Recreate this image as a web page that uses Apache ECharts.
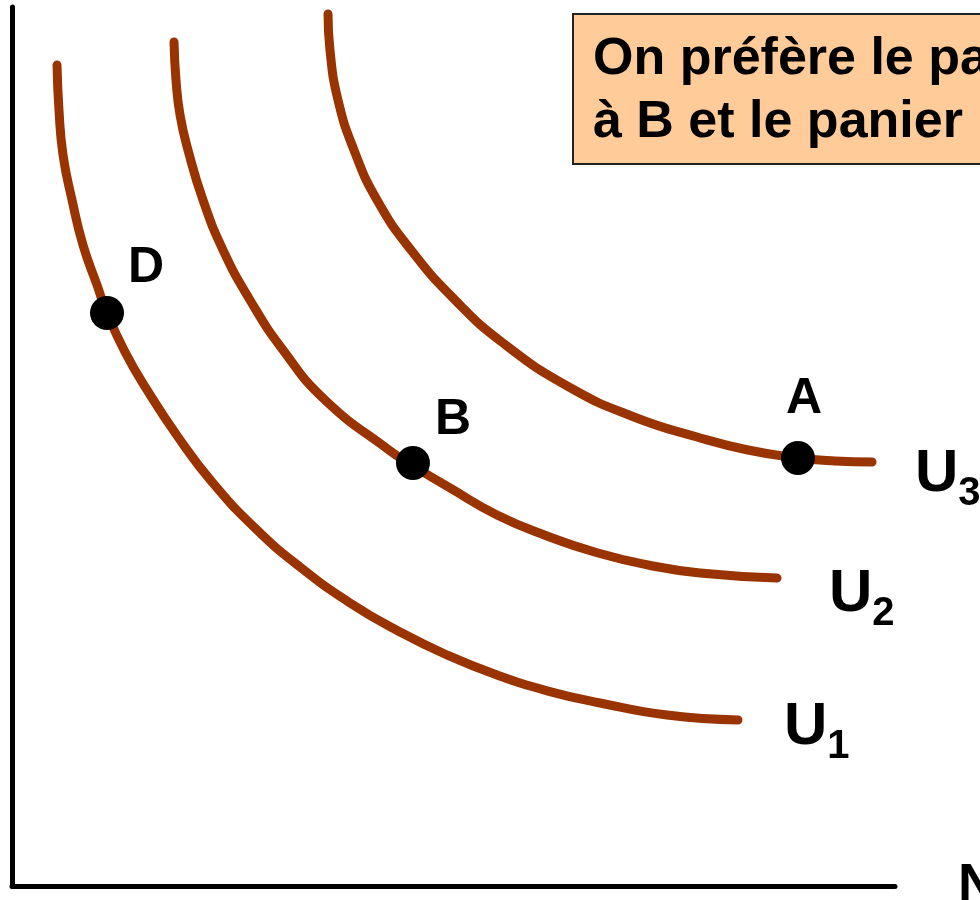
<!DOCTYPE html>
<html>
<head>
    <meta charset="utf-8">
    <title>Courbes d'indifférence</title>
    <script src="https://cdn.jsdelivr.net/npm/echarts@6/dist/echarts.min.js"></script>
    <style>
        html, body { margin: 0; padding: 0; background: #fff; }
    </style>
</head>
<body>
<div id="main" style="width: 980px;height:900px;"></div>
<script type="text/javascript">
    // courbes d'indifférence (axes 0-100)
    var u1 = [[5.10, 93.40], [5.32, 88.28], [5.78, 83.16], [6.80, 78.04], [8.04, 72.92],
        [9.63, 68.37], [10.76, 65.19], [12.80, 60.75], [15.29, 56.43], [18.80, 51.08],
        [22.65, 45.96], [27.52, 40.73], [32.62, 36.29], [38.28, 32.20], [43.94, 28.90],
        [49.26, 26.28], [54.93, 24.00], [60.70, 22.18], [66.59, 20.82], [74.18, 19.45],
        [82.22, 18.89]];
    var u2 = [[18.35, 96.02], [18.57, 91.70], [19.03, 87.71], [19.93, 83.73], [21.63, 78.04],
        [23.90, 72.35], [26.95, 66.67], [30.69, 60.98], [35.45, 55.29], [42.70, 49.60],
        [45.64, 47.67], [49.60, 45.28], [54.93, 42.21], [60.59, 39.82], [66.36, 37.88],
        [72.03, 36.52], [77.92, 35.61], [86.64, 35.04]];
    var u3 = [[35.79, 99.20], [36.01, 95.11], [36.92, 89.42], [38.73, 83.73], [41.34, 78.04],
        [45.19, 72.35], [50.17, 66.67], [55.61, 61.77], [63.08, 56.77], [70.44, 53.36],
        [77.58, 51.08], [83.35, 49.60], [89.01, 48.69], [93.20, 48.35], [97.40, 48.24]];
    // paniers
    var paniers = [
        { name: 'D', value: [10.76, 65.19], offset: [39, -45] },
        { name: 'B', value: [45.41, 48.12], offset: [40, -43] },
        { name: 'A', value: [89.01, 48.69], offset: [6, -59] }
    ];
    var noms = ['1', '2', '3'];
    var texte = ['On préfère le panier A', 'à B et le panier B à D'];
    var axeX = 'Nourriture';

    var brun = '#993300';
    var police = 'Liberation Sans, Arial, sans-serif';

    function courbe(data, idx, dist, dy) {
        return {
            type: 'line',
            data: data,
            smooth: 0.5,
            showSymbol: false,
            z: 2,
            lineStyle: { color: brun, width: 9, cap: 'round' },
            endLabel: {
                show: true,
                distance: dist,
                offset: [0, dy],
                formatter: '{u|U}{s|' + noms[idx] + '}',
                rich: {
                    u: { fontSize: 60, fontWeight: 'bold', fontFamily: police, color: '#000',
                        lineHeight: 56, verticalAlign: 'top' },
                    s: { fontSize: 40, fontWeight: 'bold', fontFamily: police, color: '#000',
                        lineHeight: 40, padding: [30, 0, 0, 0], verticalAlign: 'top' }
                }
            }
        };
    }

    var myChart = echarts.init(document.getElementById('main'));
    var option = {
        animation: false,
        grid: { left: 12, right: 85, top: 7, bottom: 14, outerBoundsMode: 'none', containLabel: false },
        xAxis: {
            type: 'value', min: 0, max: 100,
            name: axeX,
            nameLocation: 'end',
            nameGap: 63,
            nameTextStyle: { fontSize: 54, fontWeight: 'bold', fontFamily: police, color: '#000',
                align: 'left', verticalAlign: 'middle', padding: [0, 0, 18, 0] },
            axisLine: { lineStyle: { color: '#000', width: 5 } },
            axisTick: { show: false },
            axisLabel: { show: false },
            splitLine: { show: false }
        },
        yAxis: {
            type: 'value', min: 0, max: 100,
            axisLine: { show: true, lineStyle: { color: '#000', width: 5 } },
            axisTick: { show: false },
            axisLabel: { show: false },
            splitLine: { show: false }
        },
        series: [
            courbe(u1, 0, 46, 5),
            courbe(u2, 1, 52, 14),
            courbe(u3, 2, 43, 10),
            {
                type: 'scatter',
                z: 5,
                symbol: 'circle',
                symbolSize: 34,
                itemStyle: { color: '#000', opacity: 1 },
                data: paniers.map(function (p) {
                    return {
                        name: p.name, value: p.value,
                        label: { offset: p.offset }
                    };
                }),
                label: {
                    show: true,
                    position: 'inside',
                    formatter: '{b}',
                    fontSize: 50, fontWeight: 'bold', fontFamily: police, color: '#000'
                }
            }
        ],
        graphic: [
            {
                type: 'group',
                left: 572, top: 13,
                children: [
                    {
                        type: 'rect',
                        shape: { x: 0, y: 0, width: 440, height: 150 },
                        style: { fill: '#FFCC99', stroke: '#222', lineWidth: 2 }
                    },
                    {
                        type: 'text',
                        x: 20, y: 14,
                        style: {
                            text: texte.join('\n'),
                            fontSize: 52, fontWeight: 'bold', fontFamily: police,
                            lineHeight: 63, fill: '#000'
                        }
                    }
                ]
            }
        ]
    };
    myChart.setOption(option);
</script>
</body>
</html>
